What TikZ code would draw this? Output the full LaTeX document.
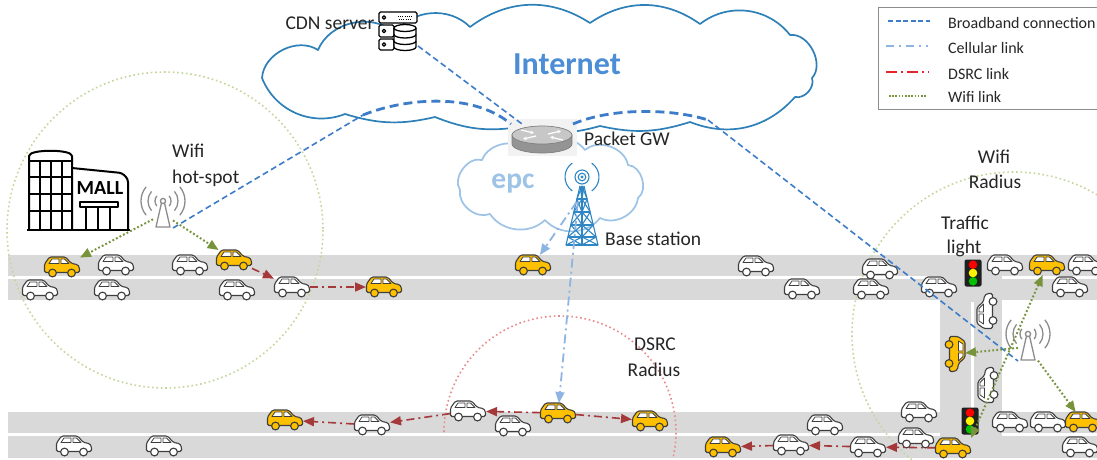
\documentclass[tikz,border=0pt]{standalone}
\usepackage{fontspec}
\setmainfont{Carlito}
\usetikzlibrary{arrows.meta,calc}

\definecolor{roadgray}{HTML}{D9D9D9}
\definecolor{bbblue}{HTML}{3D7CC9}
\definecolor{cellblue}{HTML}{8DB4E2}
\definecolor{dsrcred}{HTML}{A5393A}
\definecolor{legred}{HTML}{E3262B}
\definecolor{wifigreen}{HTML}{77933C}
\definecolor{radgreen}{HTML}{C4D79B}
\definecolor{radred}{HTML}{E88A8B}
\definecolor{cloudblue}{HTML}{2E80B8}
\definecolor{epcblue}{HTML}{9DC3E6}
\definecolor{nettext}{HTML}{4C8ED6}
\definecolor{caryellow}{HTML}{FFC000}
\definecolor{caredge}{HTML}{3F3F3F}
\definecolor{towergray}{HTML}{8C8C8C}
\definecolor{bsblue}{HTML}{2F86C4}
\definecolor{tlgreen}{HTML}{00C000}
\definecolor{legframe}{HTML}{8C8C8C}
\definecolor{inkgray}{HTML}{262626}

\tikzset{
  % hatchback seen from the side, facing right
  pics/car/.style={code={
    \draw[caredge, line width=1.1pt, fill=#1, line join=round, rounded corners=1.5pt]
      (-17.5,5.5) -- (-17.5,-3) -- (-12.5,-10) -- (3.5,-10) -- (9.5,-3.5)
      -- (15.5,-2.5) -- (17.5,0.5) -- (17.5,5.5) -- cycle;
    \draw[caredge, line width=0.8pt, fill=white, line join=round]
      (-13,-3.5) -- (-10,-8) -- (-3,-8) -- (-3,-3.5) -- cycle
      (-1,-3.5) -- (-1,-8) -- (2.5,-8) -- (7,-3.5) -- cycle;
    \draw[caredge, line width=1.1pt, fill=#1] (-9.5,6) circle (3.9) (9.5,6) circle (3.9);
  }},
  pics/tlight/.style={code={
    \fill[black!88, rounded corners=2pt] (-8.5,-13.5) rectangle (8.5,13.5);
    \fill[red] (0,-8.3) circle (4.3);
    \fill[yellow] (0,0) circle (4.3);
    \fill[tlgreen] (0,8.3) circle (4.3);
  }},
  pics/wifitower/.style={code={
    \begin{scope}[towergray, line width=1.3pt]
      \draw (0,0) circle (2.6);
      \draw[line join=round] (-1.6,2.3) -- (-7,26) -- (7,26) -- (1.6,2.3);
      \foreach \r in {8,15,22} {
        \draw (-40:\r) arc (-40:40:\r);
        \draw (140:\r) arc (140:220:\r);
      }
    \end{scope}
  }},
  pics/bstation/.style={code={
    \begin{scope}[bsblue, line width=1.1pt, line join=round]
      \fill (0,0) circle (1.6);
      \draw (0,0) circle (3.8);
      \draw (0,0) circle (7);
      \draw (-55:17) arc (-55:55:17);
      \draw (125:17) arc (125:235:17);
      \draw (-2,9) -- (-16,68) -- (16,68) -- (2,9);
      \draw (0,9) -- (0,68);
      \foreach \ya/\wa/\yb/\wb in {9/2/22/5.1, 22/5.1/35/8.2, 35/8.2/48/11.3, 48/11.3/60/14.1, 60/14.1/68/16} {
        \draw (-\wb,\yb) -- (\wb,\yb);
        \draw (-\wa,\ya) -- (0,\yb) -- (\wa,\ya);
        \draw (-\wb,\yb) -- (0,\ya) -- (\wb,\yb);
      }
    \end{scope}
  }},
  pics/router/.style={code={
    \fill[black!5] (-34,-20) rectangle (35,17);
    \draw[black!50, line width=0.7pt, fill=black!42]
      (-30,-4) -- (-30,5) arc (180:0:30 and 9) -- (30,-4) -- cycle;
    \draw[black!50, line width=0.7pt, fill=black!22] (0,-4) ellipse (30 and 9);
    \begin{scope}[white, line width=1.2pt, -{Stealth[length=3.5pt,width=3.5pt]}]
      \draw (-21,-9) -- (-8,-6);
      \draw (21,1) -- (8,-2);
      \draw (-6,-3) -- (-19,0);
      \draw (6,-5) -- (19,-8);
    \end{scope}
  }},
  pics/server/.style={code={
    \begin{scope}[black, line width=1.3pt, line join=round]
      \draw[rounded corners=1.5pt, fill=white] (-19,-19) rectangle (19,-8);
      \draw[rounded corners=1.5pt, fill=white] (-19,-6) rectangle (-4,6);
      \draw[rounded corners=1.5pt, fill=white] (-19,8) rectangle (-4,19);
      \draw (-14,-13.5) circle (1.7) (-14,0) circle (1.7) (-14,13.5) circle (1.7);
      \draw[line width=0.9pt, dash pattern=on 1pt off 1.2pt] (0,-15) -- (15,-15) (1,-12) -- (14,-12);
      \draw[fill=white] (-4,-3) -- (-4,16) arc (180:0:11 and 3.5) -- (18,-3);
      \draw[fill=white] (7,-3) ellipse (11 and 3.5);
      \draw (-4,3.5) arc (180:0:11 and 3.5);
      \draw (-4,10) arc (180:0:11 and 3.5);
    \end{scope}
  }},
  carbox/.style={rectangle, minimum width=36pt, minimum height=20pt, inner sep=0pt, outer sep=0pt},
  iconbox/.style={rectangle, inner sep=0pt, outer sep=0pt},
  lbl/.style={font=\fontsize{19.5}{23}\selectfont, inner sep=0pt, text=inkgray},
  leg/.style={font=\fontsize{16}{19}\selectfont, inner sep=0pt, anchor=base west, text=inkgray},
  tip/.style={-{Triangle[length=11pt,width=9pt]}},
  bb/.style={bbblue, line width=1.6pt, dash pattern=on 6pt off 3.5pt},
  bbthick/.style={bbblue, line width=2.8pt, dash pattern=on 9pt off 5pt},
  cell/.style={cellblue, line width=1.8pt, dash pattern=on 9pt off 4pt on 2pt off 4pt, tip},
  dsrc/.style={dsrcred, line width=1.6pt, dash pattern=on 8pt off 4pt on 2pt off 4pt, tip},
  wifi/.style={wifigreen, line width=2pt, dash pattern=on 1.8pt off 2.2pt, tip},
  radius/.style={line width=1.6pt, dash pattern=on 1.6pt off 2.8pt},
  cloudline/.style={line width=1.7pt, line join=round, fill=white},
}

% a car: name, position, colour, rotation
\newcommand\carnode[4]{%
  \node[carbox, rotate=#4] (#1) at (#2) {};
  \pic[rotate=#4] at (#2) {car=#3};}

\begin{document}
\begin{tikzpicture}[x=1pt,y=-1pt]
\useasboundingbox (0,0) rectangle (1097,459);
\fill[white] (0,0) rectangle (1097,459);

% ---- roads
\fill[roadgray] (8,255) rectangle (1097,300);
\fill[roadgray] (8,412) rectangle (1097,458);
\fill[roadgray] (940,300) rectangle (1002,412);
\fill[white] (8,275.5) rectangle (942,278.5);
\fill[white] (1002,275.5) rectangle (1097,278.5);
\fill[white] (970.5,302) rectangle (973.5,409);
\fill[white] (8,433) rectangle (940,436);
\fill[white] (1002,433) rectangle (1097,436);

% ---- coverage ranges
\draw[radius, radgreen] (165,230) circle (158);
\draw[radius, radgreen] (1014,334) circle (162);
\draw[radius, radred] (560,432) ++(180:116) arc (180:373:116);

% ---- clouds
\draw[cloudline, draw=cloudblue]
  (262,78) to[bend left=60] (318,50) to[bend left=55] (395,33)
  to[bend left=50] (470,27) to[bend left=35] (590,23) to[bend left=35] (700,24)
  to[bend left=45] (790,35) to[bend left=70] (812,78) to[bend left=60] (795,97)
  to[bend left=35] (690,122) to[bend left=15] (600,126) to[bend left=15] (520,127)
  to[bend left=15] (435,117) to[bend left=15] (345,114) to[bend left=45] (262,78) -- cycle;
\draw[cloudline, draw=epcblue]
  (460,190) to[bend left=70] (482,160) to[bend left=60] (530,152)
  to[bend left=55] (585,150) to[bend left=60] (628,165) to[bend left=70] (638,198)
  to[bend left=55] (600,218) to[bend left=50] (545,220) to[bend left=50] (490,214)
  to[bend left=60] (460,190) -- cycle;

\node[font=\bfseries\fontsize{32}{36}\selectfont, text=nettext, anchor=base, inner sep=0pt] (inet) at (567,74) {Internet};
\node[font=\bfseries\fontsize{29.5}{33}\selectfont, text=epcblue, anchor=base, inner sep=0pt] (epc) at (513,188) {epc};

% ---- mall
\begin{scope}[black, line width=2pt, line join=round]
  \draw[rounded corners=2pt] (29,229) -- (29,158) .. controls (29,149) and (72,149) .. (72,158) -- (72,229);
  \draw (29,161) -- (72,161);
  \draw[line width=1.6pt] (40,161) -- (40,229) (51,161) -- (51,229) (62,161) -- (62,229);
  \draw[line width=1.6pt] (29,177) -- (72,177) (29,194) -- (72,194) (29,211) -- (72,211);
  \draw[rounded corners=3pt] (72,168) -- (122,173) -- (128,179) -- (128,229);
  \draw (80,202) rectangle (118,207);
  \draw (86,207) -- (86,229) (98,207) -- (98,229) (110,207) -- (110,229);
  \draw[line width=2.6pt] (27,230) -- (130,230);
\end{scope}
\node[font=\bfseries\fontsize{20}{22}\selectfont, anchor=base, inner sep=0pt] (mall) at (100,194) {MALL};

% ---- network equipment
\node[iconbox, minimum width=40pt, minimum height=40pt] (srv) at (398,31) {};
\pic at (398,31) {server};
\node[iconbox, minimum width=62pt, minimum height=30pt] (gw) at (542,139) {};
\pic at (542,139) {router};
\pic at (582,177) {bstation};
\node[iconbox, minimum size=4pt] (bs) at (578,200) {};
\node[iconbox, minimum width=20pt, minimum height=28pt] (tw1) at (163,214) {};
\pic at (163,201) {wifitower};
\node[iconbox, minimum width=20pt, minimum height=28pt] (tw2) at (1028,347) {};
\pic at (1028,334) {wifitower};
\node[iconbox, minimum width=17pt, minimum height=27pt] (tl1) at (973,273) {};
\pic at (973,273) {tlight};
\node[iconbox, minimum width=17pt, minimum height=27pt] (tl2) at (970,421) {};
\pic at (970,421) {tlight};

% ---- labels
\node[lbl, anchor=base] (cdnl) at (330,29) {CDN server};
\node[lbl, anchor=base west] (gwl) at (584,145) {Packet GW};
\node[lbl, anchor=base west] (bsl) at (605,245) {Base station};
\node[lbl, anchor=base west] (hs1) at (172,157) {Wifi};
\node[lbl, anchor=base west] (hs2) at (172,183) {hot-spot};
\node[lbl, anchor=base] (wr1) at (994,163) {Wifi};
\node[lbl, anchor=base] (wr2) at (995,188) {Radius};
\node[lbl, anchor=base] (tf1) at (965,229) {Traffic};
\node[lbl, anchor=base] (tf2) at (964,253) {light};
\node[lbl, anchor=base] (ds1) at (655,350) {DSRC};
\node[lbl, anchor=base] (ds2) at (654,376) {Radius};

% ---- cars, upper road
\carnode{a1}{62,267}{caryellow}{0}
\carnode{a2}{116,265}{white}{0}
\carnode{a3}{190,265}{white}{0}
\carnode{a4}{234,260}{caryellow}{0}
\carnode{a5}{533,265}{caryellow}{0}
\carnode{a6}{756,266}{white}{0}
\carnode{a7}{880,269}{white}{0}
\carnode{a8}{1005,265}{white}{0}
\carnode{a9}{1047,265}{caryellow}{0}
\carnode{a10}{1086,265}{white}{0}
\carnode{b1}{40,290}{white}{0}
\carnode{b2}{112,290}{white}{0}
\carnode{b3}{237,290}{white}{0}
\carnode{b4}{292,287}{white}{0}
\carnode{b5}{384,287}{caryellow}{0}
\carnode{b6}{802,289}{white}{0}
\carnode{b7}{871,289}{white}{0}
\carnode{b8}{939,287}{white}{0}
\carnode{b9}{1070,287}{white}{0}
% ---- cars, cross street
\carnode{v1}{987,311}{white}{90}
\carnode{v2}{955,354}{caryellow}{-90}
\carnode{v3}{988,385}{white}{90}
% ---- cars, lower road
\carnode{c1}{285,420}{caryellow}{0}
\carnode{c2}{372,425}{white}{0}
\carnode{c3}{468,411}{white}{0}
\carnode{c4}{513,426}{white}{0}
\carnode{c5}{558,413}{caryellow}{0}
\carnode{c6}{650,421}{caryellow}{0}
\carnode{c7}{825,425}{white}{0}
\carnode{c8}{919,412}{white}{0}
\carnode{c9}{1010,422}{white}{0}
\carnode{c10}{1048,422}{white}{0}
\carnode{c11}{1083,422}{caryellow}{0}
\carnode{d1}{74,446}{white}{0}
\carnode{d2}{164,446}{white}{0}
\carnode{d3}{723,447}{caryellow}{0}
\carnode{d4}{791,445}{white}{0}
\carnode{d5}{868,447}{white}{0}
\carnode{d6}{916,438}{white}{0}
\carnode{d7}{953,448}{caryellow}{0}
\carnode{d8}{1080,447}{white}{0}

% ---- broadband connections
\coordinate (bbL) at (363,115);
\coordinate (bbR) at (708,120);
\draw[bb] (srv) -- (gw);
\draw[bb] (tw1.south east) -- (bbL);
\draw[bbthick] (bbL) .. controls (400,100) and (470,90) .. (gw.north west);
\draw[bbthick] (gw.north east) .. controls (610,108) and (670,108) .. (bbR);
\draw[bb] (bbR) -- (tw2.south west);

% ---- cellular links
\draw[cell] (bs) -- (a5);
\draw[cell] (bs) -- (c5);

% ---- DSRC links
\draw[dsrc] (a4) -- (b4);
\draw[dsrc] (b4) -- (b5);
\draw[dsrc] (c5) -- (c3);
\draw[dsrc] (c5) -- (c6);
\draw[dsrc] (c3) -- (c2);
\draw[dsrc] (c2) -- (c1);
\draw[dsrc] (d7) -- (d5);
\draw[dsrc] (d5) -- (d4);
\draw[dsrc] (d4) -- (d3);

% ---- wifi links
\draw[wifi] (tw1) -- (a1);
\draw[wifi] (tw1) -- (a4);
\draw[wifi] (tw2) -- (v2);
\draw[wifi] (tw2) -- (c11);
\draw[wifi, {Triangle[length=11pt,width=9pt]}-{Triangle[length=11pt,width=9pt]}] (a9) -- (d7.north east);

% ---- legend
\draw[legframe, line width=0.8pt] (878,7) rectangle (1110,109);
\coordinate (lg1a) at (888,21);  \coordinate (lg1b) at (930,21);
\coordinate (lg2a) at (886,46);  \coordinate (lg2b) at (928,46);
\coordinate (lg3a) at (886,72);  \coordinate (lg3b) at (929,72);
\coordinate (lg4a) at (889,96);  \coordinate (lg4b) at (927,96);
\draw[bbblue, line width=2pt, dash pattern=on 5pt off 2.5pt] (lg1a) -- (lg1b);
\draw[cellblue, line width=2pt, dash pattern=on 8pt off 5pt on 2pt off 5pt] (lg2a) -- (lg2b);
\draw[legred, line width=2pt, dash pattern=on 11pt off 4pt on 2pt off 4pt] (lg3a) -- (lg3b);
\draw[wifigreen, line width=2pt, dash pattern=on 1.5pt off 1.7pt] (lg4a) -- (lg4b);
\node[leg] (lt1) at (948,28) {Broadband connection};
\node[leg] (lt2) at (948,53) {Cellular link};
\node[leg] (lt3) at (948,79) {DSRC link};
\node[leg] (lt4) at (948,102) {Wifi link};
\end{tikzpicture}
\end{document}
